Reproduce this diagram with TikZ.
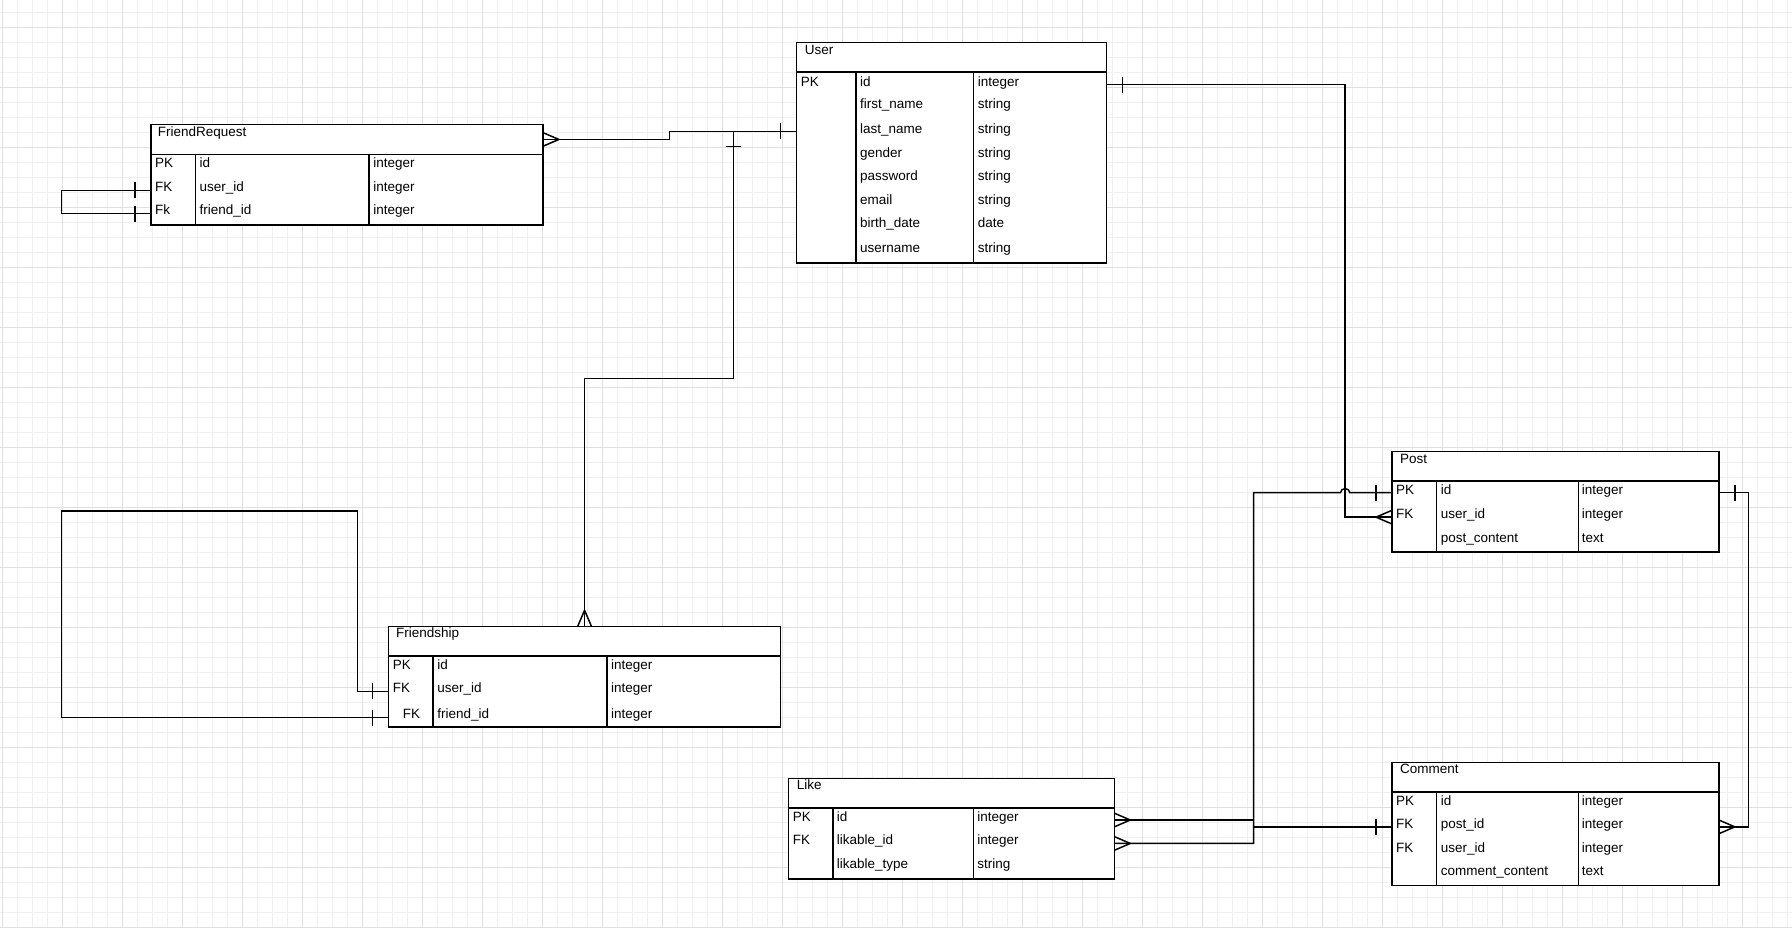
\documentclass[tikz,border=0pt]{standalone}
\usepackage{fontspec}
\setmainfont{Liberation Sans}
\newcommand{\ertbl}[7]{%
  \node[tbl, minimum width=#4pt, minimum height=#5pt] (#1) at (#2,#3) {};
  \draw[tline] ([shift={(0,26)}]#1.north west) -- ([shift={(0,26)}]#1.north east)
    ([shift={(#6,26)}]#1.north west) -- ([shift={(#6,0)}]#1.south west)
    ([shift={(#7,26)}]#1.north west) -- ([shift={(#7,0)}]#1.south west);}
\newcommand{\ercrow}[2]{\draw[conn] ([shift={(#2:14pt)}]#1) -- ([shift={(#2+90:6pt)}]#1)
    ([shift={(#2:14pt)}]#1) -- ([shift={(#2-90:6pt)}]#1);}
\newcommand{\ertick}[2]{\draw[conn] ([shift={(#2:14pt)}]#1) ++(#2+90:7pt) -- ++(#2-90:14pt);}
\begin{document}
\begin{tikzpicture}[x=1pt,y=-1pt,
  tbl/.style={draw, line width=1.3pt, fill=white, inner sep=0pt, outer sep=0pt, anchor=north west},
  tline/.style={line width=1.3pt},
  conn/.style={line width=1.3pt, line join=miter},
  txt/.style={anchor=west, inner sep=0pt, yshift=-1pt, font=\fontsize{11.8pt}{14pt}\selectfont, text height=8.5pt, text depth=0pt},
  gminor/.style={draw=black!6, line width=0.8pt},
  gmajor/.style={draw=black!12, line width=0.8pt}]
\fill[white] (0,0) rectangle (1568,812);
\useasboundingbox (0,0) rectangle (1568,812);
% grid
\foreach \i in {0,...,119}{\draw[gminor] (2.3+13.125*\i,0) -- (2.3+13.125*\i,812);}
\foreach \j in {0,...,61}{\draw[gminor] (0,11.1+13.125*\j) -- (1568,11.1+13.125*\j);}
\foreach \i in {0,...,29}{\draw[gmajor] (2.3+52.5*\i,0) -- (2.3+52.5*\i,812);}
\foreach \j in {0,...,15}{\draw[gmajor] (0,24.2+52.5*\j) -- (1568,24.2+52.5*\j);}

% tables
\ertbl{fr}{132}{109}{343}{88}{39}{191}
\ertbl{user}{697}{37}{271}{193}{52}{155}
\ertbl{post}{1218}{395}{286}{88}{39}{163}
\ertbl{comment}{1218}{667}{286}{108}{39}{163}
\ertbl{like}{690}{681}{285}{88}{39}{162}
\ertbl{fs}{340}{548}{343}{88}{39}{191}

% texts
\node[txt] (fr-t) at (138,114) {FriendRequest};
\foreach \y/\k/\n/\t [count=\i] in {141/PK/id/integer, 162.4/FK/user\_id/integer, 182.8/Fk/friend\_id/integer}{
  \node[txt] (fr-k\i) at (135.5,\y) {\k};
  \node[txt] (fr-n\i) at (174.5,\y) {\n};
  \node[txt] (fr-y\i) at (326.5,\y) {\t};}

\node[txt] (user-t) at (704,42.2) {User};
\node[txt] (user-k1) at (700.5,70.5) {PK};
\foreach \y/\n/\t [count=\i] in {70.5/id/integer, 90/first\_name/string, 111.3/last\_name/string, 132.3/gender/string, 152.7/password/string, 173.4/email/string, 193.8/birth\_date/date, 215.4/username/string}{
  \node[txt] (user-n\i) at (752.5,\y) {\n};
  \node[txt] (user-y\i) at (855.5,\y) {\t};}

\node[txt] (post-t) at (1225,400.6) {Post};
\node[txt] (post-k1) at (1221.5,427.8) {PK};
\node[txt] (post-k2) at (1221.5,448.2) {FK};
\foreach \y/\n/\t [count=\i] in {427.8/id/integer, 448.2/user\_id/integer, 469.5/post\_content/text}{
  \node[txt] (post-n\i) at (1260.5,\y) {\n};
  \node[txt] (post-y\i) at (1384,\y) {\t};}

\node[txt] (comment-t) at (1225,671.3) {Comment};
\node[txt] (comment-k1) at (1221.5,699.6) {PK};
\node[txt] (comment-k2) at (1221.5,719.4) {FK};
\node[txt] (comment-k3) at (1221.5,740.4) {FK};
\foreach \y/\n/\t [count=\i] in {699.6/id/integer, 719.4/post\_id/integer, 740.4/user\_id/integer, 761.1/comment\_content/text}{
  \node[txt] (comment-n\i) at (1260.5,\y) {\n};
  \node[txt] (comment-y\i) at (1384,\y) {\t};}

\node[txt] (like-t) at (697,685.3) {Like};
\node[txt] (like-k1) at (693.5,713.6) {PK};
\node[txt] (like-k2) at (693.5,734) {FK};
\foreach \y/\n/\t [count=\i] in {713.6/id/integer, 734/likable\_id/integer, 754.4/likable\_type/string}{
  \node[txt] (like-n\i) at (732,\y) {\n};
  \node[txt] (like-y\i) at (855,\y) {\t};}

\node[txt] (fs-t) at (346.5,552.6) {Friendship};
\node[txt] (fs-k1) at (343.5,580.3) {PK};
\node[txt] (fs-k2) at (343.5,600.7) {FK};
\node[txt] (fs-k3) at (352.3,623.2) {FK};
\foreach \y/\n/\t [count=\i] in {580.3/id/integer, 600.7/user\_id/integer, 623.2/friend\_id/integer}{
  \node[txt] (fs-n\i) at (382.5,\y) {\n};
  \node[txt] (fs-y\i) at (534.5,\y) {\t};}

% connectors
% FriendRequest -> User
\draw[conn] ([shift={(0,13)}]fr.north east) coordinate (frR) -- ++(111,0) -- ++(0,-7)
  -- ([shift={(0,78)}]user.north west) coordinate (uL);
\ercrow{frR}{0}
\ertick{uL}{180}
% Friendship -> User
\draw[conn] (uL) -- ++(-55,0) coordinate (jn) -- ++(0,216) -| (fs.north);
\ercrow{fs.north}{90}
\draw[conn] ([shift={(-6.5,13)}]jn) -- ++(13,0);
% User -> Post
\draw[conn] ([shift={(0,37)}]user.north east) coordinate (uR) -- ++(209,0)
  |- ([shift={(0,57.5)}]post.north west) coordinate (pFK);
\ertick{uR}{0}
\ercrow{pFK}{180}
% Like -> Post (with line jump)
\coordinate (pPK) at ([shift={(0,36)}]post.north west);
\draw[conn] ([shift={(0,57)}]like.north east) coordinate (lkB) -- ++(122,0) coordinate (vx)
  -- (vx |- pPK) -- ++(76,0) arc[start angle=180, end angle=0, x radius=4pt, y radius=3.5pt] -- (pPK);
\ertick{pPK}{180}
\ercrow{lkB}{0}
% Like -> Comment
\coordinate (cL) at ([shift={(0,56.5)}]comment.north west);
\draw[conn] ([shift={(0,36.5)}]like.north east) coordinate (lkA) -- (vx |- lkA) -- (vx |- cL) -- (cL);
\ercrow{lkA}{0}
\ertick{cL}{180}
% Post -> Comment
\draw[conn] ([shift={(0,36)}]post.north east) coordinate (pR) -- ++(26,0)
  |- ([shift={(0,56.5)}]comment.north east) coordinate (cR);
\ertick{pR}{0}
\ercrow{cR}{0}
% FriendRequest self loop
\draw[conn] ([shift={(0,57.5)}]fr.north west) coordinate (frU) -- ++(-78,0)
  |- ([shift={(0,78)}]fr.north west) coordinate (frF);
\ertick{frU}{180}
\ertick{frF}{180}
% Friendship self loop
\draw[conn] ([shift={(0,57)}]fs.north west) coordinate (fsU) -- ++(-27,0) -- ++(0,-158) -- ++(-259,0)
  |- ([shift={(0,80)}]fs.north west) coordinate (fsF);
\ertick{fsU}{180}
\ertick{fsF}{180}
\end{tikzpicture}
\end{document}
